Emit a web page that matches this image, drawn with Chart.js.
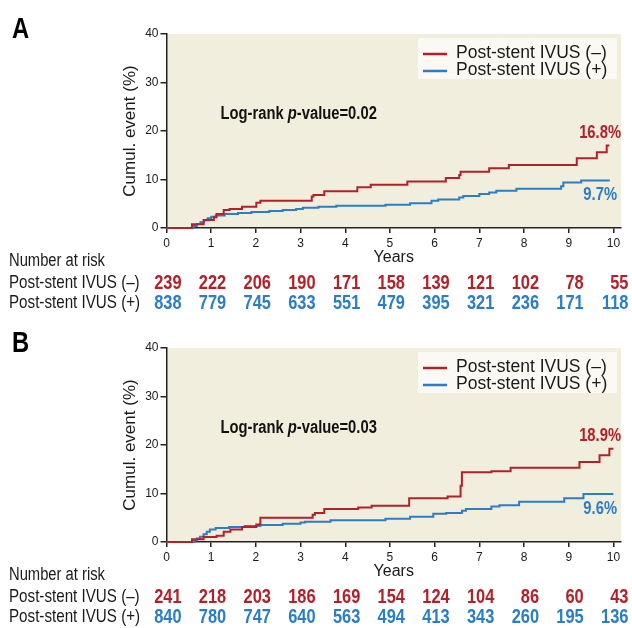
<!DOCTYPE html>
<html>
<head>
<meta charset="utf-8">
<script src="https://cdn.jsdelivr.net/npm/chart.js@4.4.1/dist/chart.umd.min.js"></script>
<style>
  body { margin: 0; background: #fff; }
  #wrap { position: relative; width: 632px; height: 628px; }
  canvas { position: absolute; left: 0; }
</style>
</head>
<body>
<div id="wrap">
  <canvas id="chartA" width="632" height="314" style="top:0"></canvas>
  <canvas id="chartB" width="632" height="314" style="top:314px"></canvas>
</div>
<script>
const years = [0, 1, 2, 3, 4, 5, 6, 7, 8, 9, 10];
const groups = ["Post-stent IVUS (–)", "Post-stent IVUS (+)"];

const riskA_neg = [239, 222, 206, 190, 171, 158, 139, 121, 102, 78, 55];
const riskA_pos = [838, 779, 745, 633, 551, 479, 395, 321, 236, 171, 118];
const riskB_neg = [241, 218, 203, 186, 169, 154, 124, 104, 86, 60, 43];
const riskB_pos = [840, 780, 747, 640, 563, 494, 413, 343, 260, 195, 136];

// [years, cumulative event %]
const curveA_neg = [[0, 0], [0.57, 0.76], [0.83, 1.65], [1.06, 2.2], [1.12, 2.9], [1.28, 3.7], [1.41, 3.9],
  [1.69, 4.4], [2.01, 5.2], [2.1, 5.6], [3.25, 6.5], [3.29, 6.8], [3.53, 7.6], [4.27, 8.4], [4.57, 8.9],
  [5.39, 9.6], [6.25, 10.3], [6.55, 10.95], [6.58, 11.6], [7.22, 12.3], [7.66, 13.0], [9.18, 14.4],
  [9.63, 15.6], [9.85, 17.0], [9.91, 17.0]];
const curveA_pos = [[0, 0], [0.61, 0.4], [0.68, 0.8], [0.76, 1.2], [0.84, 1.6], [0.92, 2.0], [1.0, 2.3],
  [1.1, 2.6], [1.3, 2.9], [1.6, 3.1], [1.9, 3.3], [2.3, 3.5], [2.6, 3.7], [2.9, 3.9], [3.05, 4.2],
  [3.4, 4.4], [3.8, 4.6], [4.9, 4.8], [5.45, 5.1], [5.93, 5.6], [6.08, 5.9], [6.55, 6.3], [6.64, 6.6],
  [7.0, 7.0], [7.22, 7.3], [7.38, 7.7], [7.83, 8.1], [8.83, 8.6], [8.88, 9.4], [9.28, 9.8], [9.92, 9.8]];
const curveB_neg = [[0, 0], [0.57, 0.56], [0.83, 1.05], [1.12, 1.3], [1.28, 2.1], [1.43, 2.6], [1.69, 3.1],
  [2.01, 3.6], [2.1, 5.0], [3.27, 5.6], [3.32, 6.0], [3.53, 6.8], [4.29, 7.1], [4.59, 7.5], [5.43, 9.0],
  [6.29, 9.4], [6.58, 11.6], [6.61, 14.4], [7.27, 14.6], [7.7, 15.3], [9.24, 16.5], [9.69, 17.9],
  [9.91, 19.25], [10.0, 19.25]];
const curveB_pos = [[0, 0], [0.61, 0.3], [0.68, 0.7], [0.75, 1.1], [0.83, 1.6], [0.9, 2.1], [0.97, 2.6],
  [1.1, 2.9], [1.4, 3.1], [1.75, 3.3], [2.1, 3.5], [2.6, 3.75], [3.0, 4.0], [3.1, 4.2], [3.67, 4.5],
  [4.9, 4.8], [5.45, 5.2], [5.97, 5.8], [6.26, 6.0], [6.61, 6.45], [6.7, 6.8], [7.27, 7.3], [7.45, 7.6],
  [7.89, 8.3], [8.9, 9.0], [9.33, 9.9], [10.0, 9.9]];

const finalA = ["16.8%", "9.7%"];
const finalB = ["18.9%", "9.6%"];
const pA = "0.02";
const pB = "0.03";

const RED = "#b3202a";
const BLUE = "#2a7dc6";
const TXT = "#1a1a1a";
const SANS = "'Liberation Sans', Arial, sans-serif";
const SQUEEZE = 0.82;

function toPoints(arr) {
  return arr.map((p) => ({ x: p[0], y: p[1] }));
}

// condensed text: regular sans squeezed horizontally
function narrowText(ctx, s, x, y, align) {
  const w = ctx.measureText(s).width * SQUEEZE;
  let left = x;
  if (align === "right") left = x - w;
  if (align === "center") left = x - w / 2;
  ctx.save();
  ctx.textAlign = "left";
  ctx.translate(left, y);
  ctx.scale(SQUEEZE, 1);
  ctx.fillText(s, 0, 0);
  ctx.restore();
  return w;
}

function makePanel(id, letter, negCurve, posCurve, riskNeg, riskPos, finals, pval) {
  const panelPlugin = {
    id: "panel" + letter,
    beforeDraw(chart) {
      const { ctx, chartArea: a } = chart;
      ctx.save();
      ctx.fillStyle = "#f2eedd";
      ctx.fillRect(a.left, a.top, a.right - a.left, a.bottom - a.top);
      ctx.restore();
    },
    afterDraw(chart) {
      const { ctx, chartArea: a } = chart;
      const xs = chart.scales.x;
      const ys = chart.scales.y;
      ctx.save();

      ctx.fillStyle = "#000";
      ctx.font = `bold 29px ${SANS}`;
      ctx.textBaseline = "alphabetic";
      narrowText(ctx, letter, 12, 38, "left");

      // legend box
      const bx = a.right - 203, by = a.top + 4;
      ctx.fillStyle = "#faf9f3";
      ctx.fillRect(bx, by, 199, 41);
      chart.data.datasets.forEach((ds, i) => {
        const ly = by + 15 + i * 17;
        ctx.strokeStyle = ds.borderColor;
        ctx.lineWidth = 2.5;
        ctx.beginPath();
        ctx.moveTo(bx + 5, ly + 1);
        ctx.lineTo(bx + 29, ly + 1);
        ctx.stroke();
        ctx.fillStyle = TXT;
        ctx.font = `17.5px ${SANS}`;
        ctx.textAlign = "left";
        ctx.textBaseline = "middle";
        ctx.fillText(ds.label, bx + 38, ly);
      });

      // log-rank text
      let tx = xs.getPixelForValue(1.21);
      const ty = ys.getPixelForValue(23.5);
      ctx.fillStyle = "#111";
      ctx.textBaseline = "middle";
      const parts = [["Log-rank ", "bold"], ["p", "italic bold"], ["-value=" + pval, "bold"]];
      parts.forEach(([s, w]) => {
        ctx.font = `${w} 18px ${SANS}`;
        tx += narrowText(ctx, s, tx, ty, "left");
      });

      // end labels
      ctx.font = `bold 18px ${SANS}`;
      const lastNeg = negCurve[negCurve.length - 1][1];
      const lastPos = posCurve[posCurve.length - 1][1];
      ctx.fillStyle = RED;
      narrowText(ctx, finals[0], a.right, ys.getPixelForValue(lastNeg) - 12.5, "right");
      ctx.fillStyle = BLUE;
      narrowText(ctx, finals[1], a.right - 4, ys.getPixelForValue(lastPos) + 15, "right");

      // number at risk table
      const base = a.bottom;
      ctx.fillStyle = TXT;
      ctx.font = `18px ${SANS}`;
      narrowText(ctx, "Number at risk", 9, base + 33.5, "left");
      [riskNeg, riskPos].forEach((row, r) => {
        const y = base + 55 + r * 20;
        ctx.fillStyle = TXT;
        ctx.font = `18.5px ${SANS}`;
        narrowText(ctx, groups[r], 9, y, "left");
        ctx.fillStyle = r === 0 ? RED : BLUE;
        ctx.font = `bold 20px ${SANS}`;
        row.forEach((n, i) => narrowText(ctx, String(n), xs.getPixelForValue(years[i]) + 15, y, "right"));
      });
      ctx.restore();
    },
  };

  return new Chart(document.getElementById(id), {
    type: "line",
    data: {
      datasets: [
        { label: groups[0], data: toPoints(negCurve), borderColor: RED, borderWidth: 2, stepped: "before", pointRadius: 0, fill: false, clip: false },
        { label: groups[1], data: toPoints(posCurve), borderColor: BLUE, borderWidth: 2, stepped: "before", pointRadius: 0, fill: false, clip: false },
      ],
    },
    options: {
      responsive: false,
      animation: false,
      layout: { padding: { top: 34, right: 11, left: 0, bottom: 0 } },
      plugins: { legend: { display: false }, tooltip: { enabled: false } },
      scales: {
        x: {
          type: "linear",
          min: 0,
          max: 10.17,
          afterBuildTicks: (s) => { s.ticks = years.map((v) => ({ value: v })); },
          afterFit: (s) => { s.height = 86; },
          grid: { drawOnChartArea: false, tickLength: 5, color: "#222", lineWidth: 1.5 },
          border: { color: "#222", width: 1.5 },
          ticks: { color: TXT, padding: 3, maxRotation: 0, font: { family: SANS, size: 12 } },
          title: { display: true, text: "Years", color: TXT, font: { family: SANS, size: 16 }, padding: { top: 0, bottom: 47 } },
        },
        y: {
          min: 0,
          max: 40,
          afterFit: (s) => { s.width = 166.5; },
          grid: { drawOnChartArea: false, tickLength: 6, color: "#222", lineWidth: 1.5 },
          border: { color: "#222", width: 1.5 },
          ticks: { stepSize: 10, color: TXT, padding: 2, font: { family: SANS, size: 12 } },
          title: { display: true, text: "Cumul. event (%)", color: TXT, font: { family: SANS, size: 17 }, padding: { top: 120, bottom: 0 } },
        },
      },
    },
    plugins: [panelPlugin],
  });
}

makePanel("chartA", "A", curveA_neg, curveA_pos, riskA_neg, riskA_pos, finalA, pA);
makePanel("chartB", "B", curveB_neg, curveB_pos, riskB_neg, riskB_pos, finalB, pB);
</script>
</body>
</html>
